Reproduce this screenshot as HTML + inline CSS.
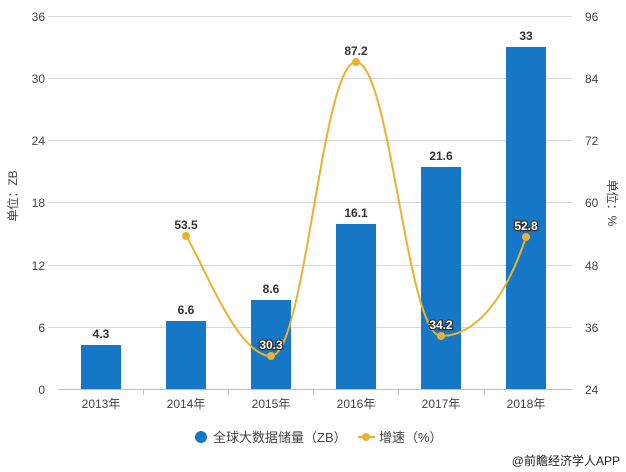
<!DOCTYPE html>
<html><head><meta charset="utf-8"><style>
body{margin:0;background:#fff;}
svg{display:block;font-family:"Liberation Sans","Noto Sans CJK SC",sans-serif;}
.t{font-size:12px;fill:#444;}
.v{font-size:12px;font-weight:bold;fill:#333;}
.w{font-size:12px;font-weight:bold;fill:#fff;stroke:#333;stroke-width:2.5px;paint-order:stroke;}
</style></head><body>
<svg width="626" height="472" viewBox="0 0 626 472">
<g stroke="#d8d8d8" stroke-width="1">
<line x1="48" y1="16.5" x2="572" y2="16.5"/>
<line x1="48" y1="78.5" x2="572" y2="78.5"/>
<line x1="48" y1="140.5" x2="572" y2="140.5"/>
<line x1="48" y1="202.5" x2="572" y2="202.5"/>
<line x1="48" y1="265.5" x2="572" y2="265.5"/>
<line x1="48" y1="327.5" x2="572" y2="327.5"/>
</g>
<line x1="58" y1="389.5" x2="572" y2="389.5" stroke="#c0c0c0"/>
<g stroke="#c0c0c0"><line x1="143.5" y1="389" x2="143.5" y2="395"/><line x1="228.5" y1="389" x2="228.5" y2="395"/><line x1="313.5" y1="389" x2="313.5" y2="395"/><line x1="398.5" y1="389" x2="398.5" y2="395"/><line x1="484.5" y1="389" x2="484.5" y2="395"/></g>
<g class="t" text-anchor="end">
<text x="45" y="21">36</text><text x="45" y="83">30</text><text x="45" y="145">24</text><text x="45" y="207">18</text><text x="45" y="270">12</text><text x="45" y="332">6</text><text x="45" y="394">0</text>
</g>
<g class="t">
<text x="585" y="21">96</text><text x="585" y="83">84</text><text x="585" y="145">72</text><text x="585" y="207">60</text><text x="585" y="270">48</text><text x="585" y="332">36</text><text x="585" y="394">24</text>
</g>
<text class="t" transform="translate(17,196) rotate(-90)" text-anchor="middle">单位：ZB</text>
<text class="t" transform="translate(608,203) rotate(90)" text-anchor="middle">单位：%</text>
<g fill="#1577c5">
<rect x="81" y="345" width="40" height="44"/>
<rect x="166" y="321" width="40" height="68"/>
<rect x="251" y="300" width="40" height="89"/>
<rect x="336" y="224" width="40" height="165"/>
<rect x="421" y="167" width="40" height="222"/>
<rect x="506" y="47" width="40" height="342"/>
</g>
<g class="t" text-anchor="middle">
<text x="101" y="408">2013年</text><text x="186" y="408">2014年</text><text x="271" y="408">2015年</text><text x="356" y="408">2016年</text><text x="441" y="408">2017年</text><text x="526" y="408">2018年</text>
</g>
<g class="v" text-anchor="middle">
<text x="101" y="338">4.3</text><text x="186" y="314">6.6</text><text x="271" y="293">8.6</text><text x="356" y="217">16.1</text><text x="441" y="160">21.6</text><text x="526" y="40">33</text>
</g>
<path d="M186,236 C203,262 237,356 271,356 C305,356 322,62 356,62 C390,62 407,336 441,336 C475,336 505,300 526,237" fill="none" stroke="#ecb12f" stroke-width="2"/>
<g fill="#ecb12f"><circle cx="186" cy="236" r="4"/><circle cx="271" cy="356" r="4"/><circle cx="356" cy="62" r="4"/><circle cx="441" cy="336" r="4"/><circle cx="526" cy="237" r="4"/></g>
<text class="v" x="186" y="229" text-anchor="middle">53.5</text>
<text class="w" x="271" y="349" text-anchor="middle">30.3</text>
<text class="v" x="356" y="55" text-anchor="middle">87.2</text>
<text class="w" x="441" y="329" text-anchor="middle">34.2</text>
<text class="w" x="526" y="230" text-anchor="middle">52.8</text>
<circle cx="201" cy="437" r="6" fill="#1577c5"/>
<text class="t" x="213" y="442" style="font-size:13px">全球大数据储量（ZB）</text>
<line x1="358" y1="437" x2="375" y2="437" stroke="#ecb12f" stroke-width="2"/>
<circle cx="366" cy="437" r="4" fill="#ecb12f"/>
<text class="t" x="379" y="442" style="font-size:13px">增速（%）</text>
<text x="620" y="465" text-anchor="end" style="font-size:12px;fill:#222">@前瞻经济学人APP</text>
</svg>
</body></html>
